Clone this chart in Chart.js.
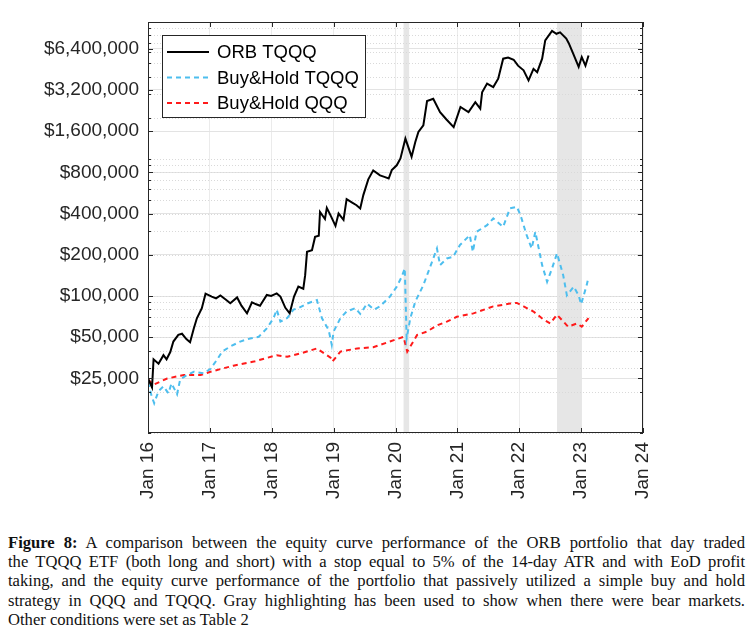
<!DOCTYPE html>
<html>
<head>
<meta charset="utf-8">
<script src="https://cdn.jsdelivr.net/npm/chart.js@4.4.1/dist/chart.umd.min.js"></script>
<style>
  body { margin: 0; background: #fff; }
  #wrap { position: relative; width: 749px; height: 520px; }
  #caption {
    position: absolute; left: 8px; top: 533px; width: 737px;
    font-family: "Liberation Serif", "DejaVu Serif", serif;
    font-size: 16.6px; line-height: 19.2px; color: #111;
  }
  #caption div { text-align: justify; text-align-last: justify; white-space: nowrap; }
  #caption div.last { text-align-last: left; }
</style>
</head>
<body>
<div id="wrap"><canvas id="myChart" width="749" height="520"></canvas></div>
<div id="caption">
  <div><b>Figure 8:</b> A comparison between the equity curve performance of the ORB portfolio that day traded</div>
  <div>the TQQQ ETF (both long and short) with a stop equal to 5% of the 14-day ATR and with EoD profit</div>
  <div>taking, and the equity curve performance of the portfolio that passively utilized a simple buy and hold</div>
  <div>strategy in QQQ and TQQQ. Gray highlighting has been used to show when there were bear markets.</div>
  <div class="last">Other conditions were set as Table 2</div>
</div>
<script>
// values (x in years, y in dollars)
const orbYears = [2016.00, 2016.065, 2016.09, 2016.17, 2016.25, 2016.30, 2016.36, 2016.41, 2016.49, 2016.55,
  2016.62, 2016.68, 2016.74, 2016.79, 2016.87, 2016.93, 2017.03, 2017.10, 2017.17, 2017.26,
  2017.33, 2017.44, 2017.51, 2017.60, 2017.68, 2017.75, 2017.81, 2017.92, 2017.99, 2018.08,
  2018.14, 2018.22, 2018.29, 2018.36, 2018.43, 2018.51, 2018.54, 2018.57, 2018.65, 2018.70,
  2018.76, 2018.78, 2018.86, 2018.89, 2018.96, 2019.03, 2019.08, 2019.16, 2019.21, 2019.30,
  2019.37, 2019.43, 2019.48, 2019.56, 2019.64, 2019.75, 2019.82, 2019.89, 2019.94, 2020.02,
  2020.08, 2020.16, 2020.26, 2020.32, 2020.37, 2020.45, 2020.51, 2020.61, 2020.72, 2020.82,
  2020.94, 2021.05, 2021.18, 2021.29, 2021.37, 2021.40, 2021.48, 2021.58, 2021.66, 2021.74,
  2021.82, 2021.91, 2021.98, 2022.07, 2022.15, 2022.23, 2022.29, 2022.37, 2022.42, 2022.53,
  2022.60, 2022.66, 2022.76, 2022.80, 2022.87, 2022.96, 2023.01, 2023.07, 2023.12];
const orbValues = [25000, 21500, 34500, 32000, 37000, 34500, 39000, 46500, 52000, 53000,
  48500, 46000, 58000, 68800, 81500, 104000, 99000, 96000, 101000, 94000,
  88500, 97600, 85000, 74700, 90000, 87000, 85000, 101700, 100000, 104500,
  99000, 82000, 74700, 99000, 117000, 113000, 142000, 210000, 216000, 270000,
  275000, 411000, 365000, 440000, 380000, 325000, 400000, 360000, 510000, 480000,
  460000, 436000, 545000, 710000, 826000, 760000, 740000, 720000, 830000, 900000,
  1010000, 1410000, 1040000, 1330000, 1575000, 1760000, 2650000, 2750000, 2200000, 1950000,
  1710000, 2400000, 2200000, 2600000, 2330000, 3070000, 3550000, 3350000, 3860000, 5400000,
  5500000, 5300000, 4800000, 4440000, 3750000, 4550000, 4300000, 5400000, 7350000, 8600000,
  8200000, 8400000, 7560000, 7000000, 5900000, 4700000, 5550000, 4800000, 5700000];

const tqqqYears = [2016.00, 2016.06, 2016.10, 2016.17, 2016.25, 2016.33, 2016.38, 2016.47, 2016.52, 2016.63,
  2016.74, 2016.90, 2017.01, 2017.11, 2017.20, 2017.33, 2017.49, 2017.65, 2017.79, 2017.92,
  2018.03, 2018.08, 2018.14, 2018.25, 2018.35, 2018.43, 2018.57, 2018.73, 2018.81, 2018.92,
  2018.97, 2019.00, 2019.11, 2019.21, 2019.35, 2019.43, 2019.54, 2019.65, 2019.75, 2019.91,
  2020.02, 2020.10, 2020.15, 2020.18, 2020.24, 2020.32, 2020.45, 2020.53, 2020.67, 2020.72,
  2020.83, 2020.93, 2021.04, 2021.20, 2021.25, 2021.31, 2021.48, 2021.58, 2021.74, 2021.85,
  2021.96, 2022.02, 2022.07, 2022.12, 2022.20, 2022.26, 2022.37, 2022.45, 2022.53, 2022.61,
  2022.71, 2022.77, 2022.88, 2022.96, 2023.00, 2023.09, 2023.12];
const tqqqValues = [23500, 18500, 16500, 20200, 21900, 19500, 23000, 19200, 24600, 26500,
  28000, 27300, 29400, 34000, 39300, 42800, 46500, 49000, 50400, 58000,
  69000, 79500, 65000, 69000, 79500, 81500, 88000, 93500, 69000, 56400,
  44000, 55000, 69000, 77000, 81500, 74000, 88000, 79500, 84000, 99000,
  117000, 138000, 159000, 49000, 69000, 91000, 120000, 150000, 222000, 168000,
  188000, 193000, 235000, 278000, 210000, 294000, 329000, 368000, 320000, 436000,
  448000, 390000, 329000, 278000, 222000, 294000, 168000, 127000, 159000, 205000,
  142000, 101000, 117000, 101000, 87000, 120000, 138000];

const qqqYears = [2016.00, 2016.09, 2016.31, 2016.58, 2016.85, 2017.01, 2017.38, 2017.71, 2018.08, 2018.25,
  2018.50, 2018.73, 2018.95, 2018.98, 2019.11, 2019.38, 2019.64, 2019.91, 2020.13, 2020.19,
  2020.35, 2020.51, 2020.67, 2020.83, 2020.99, 2021.26, 2021.58, 2021.85, 2021.96, 2022.07,
  2022.23, 2022.39, 2022.50, 2022.61, 2022.79, 2022.93, 2023.01, 2023.12];
const qqqValues = [24600, 22500, 25000, 26500, 26500, 28000, 31000, 33200, 37000, 36000,
  38500, 41400, 35500, 33200, 39300, 41400, 42300, 46500, 50400, 39300,
  52000, 55000, 61000, 65000, 70500, 74700, 84000, 88000, 89000, 84000,
  77000, 67500, 63000, 73000, 59700, 63000, 59700, 69000];

const yTickValues = [25000, 50000, 100000, 200000, 400000, 800000, 1600000, 3200000, 6400000];
const xTickYears = [2016, 2017, 2018, 2019, 2020, 2021, 2022, 2023, 2024];
const bearMarkets = [[2020.13, 2020.22], [2022.61, 2023.01]];
const seriesNames = ["ORB TQQQ", "Buy&Hold TQQQ", "Buy&Hold QQQ"];

const axisColor = "#262626";
const font = "'Liberation Sans', Arial, sans-serif";

function toPoints(xs, ys) {
  return xs.map((x, i) => ({ x: x, y: ys[i] }));
}

// minor log positions for the dotted grid and small ticks
const minorValues = [];
for (let p = 10000; p < 10000000; p *= 10) {
  for (let m = 1; m < 10; m++) minorValues.push(p * m);
}

const framePlugin = {
  id: "frame",
  beforeDatasetsDraw(chart) {
    const { ctx, chartArea: a, scales } = chart;
    ctx.save();
    // bear market shading
    ctx.fillStyle = "#e6e6e6";
    bearMarkets.forEach(b => {
      const x1 = scales.x.getPixelForValue(b[0]);
      const x2 = scales.x.getPixelForValue(b[1]);
      ctx.fillRect(x1, a.top, x2 - x1, a.bottom - a.top);
    });
    // minor dotted grid
    ctx.strokeStyle = "#d9d9d9";
    ctx.lineWidth = 1;
    ctx.setLineDash([1, 2]);
    minorValues.forEach(v => {
      const y = Math.round(scales.y.getPixelForValue(v)) + 0.5;
      ctx.beginPath();
      ctx.moveTo(a.left, y);
      ctx.lineTo(a.right, y);
      ctx.stroke();
    });
    ctx.restore();
  },
  afterDatasetsDraw(chart) {
    const { ctx, chartArea: a, scales } = chart;
    ctx.save();
    ctx.strokeStyle = axisColor;
    ctx.lineWidth = 1;
    ctx.strokeRect(a.left + 0.5, a.top + 0.5, a.right - a.left - 1, a.bottom - a.top - 1);
    ctx.beginPath();
    // inward ticks, all four sides
    xTickYears.forEach(v => {
      const x = Math.round(scales.x.getPixelForValue(v)) + 0.5;
      ctx.moveTo(x, a.bottom); ctx.lineTo(x, a.bottom - 5);
      ctx.moveTo(x, a.top); ctx.lineTo(x, a.top + 5);
    });
    yTickValues.forEach(v => {
      const y = Math.round(scales.y.getPixelForValue(v)) + 0.5;
      ctx.moveTo(a.left, y); ctx.lineTo(a.left + 5, y);
      ctx.moveTo(a.right, y); ctx.lineTo(a.right - 5, y);
    });
    minorValues.forEach(v => {
      const y = Math.round(scales.y.getPixelForValue(v)) + 0.5;
      ctx.moveTo(a.left, y); ctx.lineTo(a.left + 3, y);
      ctx.moveTo(a.right, y); ctx.lineTo(a.right - 3, y);
    });
    ctx.stroke();

    // legend box inside the axes
    const lx = a.left + 14, ly = a.top + 13, lw = 203, lh = 82;
    ctx.fillStyle = "#fff";
    ctx.fillRect(lx, ly, lw, lh);
    ctx.strokeRect(lx + 0.5, ly + 0.5, lw, lh);
    ctx.font = "18.5px " + font;
    ctx.textBaseline = "middle";
    chart.data.datasets.forEach((ds, i) => {
      const y = ly + 17 + i * 25.5;
      ctx.strokeStyle = ds.borderColor;
      ctx.lineWidth = ds.borderWidth;
      ctx.setLineDash(ds.borderDash || []);
      ctx.beginPath();
      ctx.moveTo(lx + 5, y);
      ctx.lineTo(lx + 47, y);
      ctx.stroke();
      ctx.setLineDash([]);
      ctx.fillStyle = "#000";
      ctx.fillText(ds.label, lx + 55, y + 1);
    });
    ctx.restore();
  }
};

function renderChart() {
  const ctx = document.getElementById("myChart");

  new Chart(ctx, {
    type: "line",
    data: {
      datasets: [
        {
          label: seriesNames[0],
          data: toPoints(orbYears, orbValues),
          borderColor: "#000000",
          borderWidth: 2,
        },
        {
          label: seriesNames[1],
          data: toPoints(tqqqYears, tqqqValues),
          borderColor: "#4DBEEE",
          borderWidth: 2,
          borderDash: [5, 4],
        },
        {
          label: seriesNames[2],
          data: toPoints(qqqYears, qqqValues),
          borderColor: "#FF1A1A",
          borderWidth: 2,
          borderDash: [5, 4],
        },
      ],
    },
    options: {
      responsive: false,
      animation: false,
      devicePixelRatio: 1,
      layout: { padding: { left: 0, right: 106, top: 22, bottom: 0 } },
      elements: { point: { radius: 0 }, line: { tension: 0 } },
      plugins: { legend: { display: false }, tooltip: { enabled: false } },
      scales: {
        x: {
          type: "linear",
          min: 2016,
          max: 2024,
          afterBuildTicks: (s) => { s.ticks = xTickYears.map(v => ({ value: v })); },
          afterFit: (s) => { s.height = 87; },
          grid: { color: "#ebebeb", drawTicks: false },
          border: { display: false },
          ticks: {
            minRotation: 90,
            maxRotation: 90,
            padding: 9,
            color: axisColor,
            font: { family: font, size: 19 },
            callback: (v) => "Jan " + String(v).slice(2),
          },
        },
        y: {
          type: "logarithmic",
          min: 10000,
          max: 10000000,
          afterBuildTicks: (s) => { s.ticks = yTickValues.map(v => ({ value: v })); },
          afterFit: (s) => { s.width = 148; },
          grid: { color: "#e3e3e3", drawTicks: false },
          border: { display: false },
          ticks: {
            padding: 9,
            color: axisColor,
            font: { family: font, size: 19 },
            callback: (v) => "$" + Number(v).toLocaleString("en-US"),
          },
        },
      },
    },
    plugins: [framePlugin],
  });
}

renderChart();
</script>
</body>
</html>
